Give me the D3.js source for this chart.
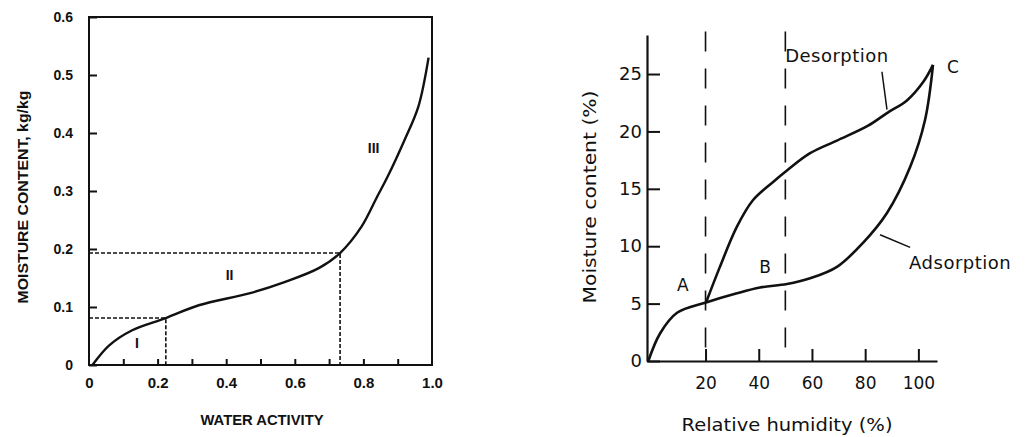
<!DOCTYPE html>
<html>
<head>
<meta charset="utf-8">
<script src="https://cdn.jsdelivr.net/npm/d3@7.9.0/dist/d3.min.js"></script>
<style>
  body { margin: 0; background: #fff; }
  svg { display: block; }
  .left text { font-family: "Liberation Sans", Arial, sans-serif; font-weight: bold; fill: #111; }
  .right text { font-family: "DejaVu Sans", sans-serif; fill: #111; }
</style>
</head>
<body>
<svg id="chart" width="1025" height="437"></svg>
<script>
// === Left chart: sorption isotherm ===
const awLabelTicks = [0, 0.2, 0.4, 0.6, 0.8, 1.0];
const awMinorTicks = [0.1, 0.2, 0.3, 0.4, 0.5, 0.6, 0.7, 0.8, 0.9];
const mcTicks = [0, 0.1, 0.2, 0.3, 0.4, 0.5, 0.6];
const isoAw = [0.01, 0.059, 0.126, 0.224, 0.32, 0.47, 0.57, 0.67, 0.732, 0.794, 0.84, 0.87, 0.92, 0.96, 0.99];
const isoMc = [0, 0.034, 0.060, 0.081, 0.103, 0.124, 0.143, 0.167, 0.193, 0.238, 0.29, 0.324, 0.388, 0.445, 0.53];
const regionAw = [0.224, 0.732];
const regionMc = [0.081, 0.193];
const regionNames = ['I', 'II', 'III'];

// === Right chart: hysteresis ===
const rhTicks = [20, 40, 60, 80, 100];
const pctTicks = [0, 5, 10, 15, 20, 25];
const adsRh = [-1.5, 2.9, 9.3, 20.2, 31.8, 40.5, 50.6, 59.3, 69.4, 79.2, 88.2, 96.9, 102.5, 105.5];
const adsMc = [0, 2.4, 4.2, 5.1, 5.9, 6.4, 6.7, 7.2, 8.2, 10.3, 12.9, 16.9, 21.0, 25.8];
const desRh = [20.2, 25.4, 31.8, 37.8, 45.4, 50.6, 59.3, 69.4, 81.1, 88.2, 95.7, 101.8, 105.5];
const desMc = [5.1, 8.2, 11.7, 14.0, 15.6, 16.6, 18.1, 19.2, 20.5, 21.6, 22.7, 24.3, 25.8];
const markerRh = [20, 50];

const svg = d3.select('#chart');

// ---------- left ----------
const L = svg.append('g').attr('class', 'left');
const x1 = d3.scaleLinear().domain([0, 1]).range([89, 432]);
const y1 = d3.scaleLinear().domain([0, 0.6]).range([365, 17]);

L.append('rect')
  .attr('x', x1(0)).attr('y', y1(0.6))
  .attr('width', x1(1) - x1(0)).attr('height', y1(0) - y1(0.6))
  .attr('fill', 'none').attr('stroke', '#111').attr('stroke-width', 2);

const fmt1 = (d) => (d === 0 ? '0' : d3.format('.1f')(d));

const yAx1 = L.append('g').attr('transform', `translate(${x1(0)},0)`)
  .call(d3.axisLeft(y1).tickValues(mcTicks).tickSizeInner(-8).tickSizeOuter(0).tickPadding(16).tickFormat(fmt1));
yAx1.select('.domain').remove();
yAx1.selectAll('line').attr('stroke', '#111').attr('stroke-width', 2);
yAx1.selectAll('text').attr('font-size', 14);

const xAx1 = L.append('g').attr('transform', `translate(0,${y1(0)})`)
  .call(d3.axisBottom(x1).tickValues(awMinorTicks).tickSizeInner(-6).tickSizeOuter(0).tickFormat(''));
xAx1.select('.domain').remove();
xAx1.selectAll('line').attr('stroke', '#111').attr('stroke-width', 2);

const xLab1 = L.append('g').attr('transform', `translate(0,${y1(0)})`)
  .call(d3.axisBottom(x1).tickValues(awLabelTicks).tickSize(0).tickPadding(12).tickFormat(fmt1));
xLab1.select('.domain').remove();
xLab1.selectAll('text').attr('font-size', 15);

// dashed region bounds
regionAw.forEach((aw, i) => {
  const mc = regionMc[i];
  L.append('path')
    .attr('d', `M${x1(0)},${y1(mc)}H${x1(aw)}V${y1(0)}`)
    .attr('fill', 'none').attr('stroke', '#111').attr('stroke-width', 1.6)
    .attr('stroke-dasharray', '4,2');
});

const line1 = d3.line().x((d) => x1(d[0])).y((d) => y1(d[1])).curve(d3.curveCatmullRom);
L.append('path')
  .attr('d', line1(d3.zip(isoAw, isoMc)))
  .attr('fill', 'none').attr('stroke', '#111').attr('stroke-width', 2.4);

const regionPos = [[0.14, 0.038], [0.41, 0.155], [0.83, 0.374]];
regionNames.forEach((name, i) => {
  L.append('text')
    .attr('x', x1(regionPos[i][0])).attr('y', y1(regionPos[i][1]))
    .attr('text-anchor', 'middle').attr('dy', '0.35em')
    .attr('font-size', 14).text(name);
});

L.append('text')
  .attr('transform', 'translate(28,197) rotate(-90)')
  .attr('text-anchor', 'middle')
  .attr('font-size', 15).attr('textLength', 213).attr('lengthAdjust', 'spacingAndGlyphs')
  .text('MOISTURE CONTENT, kg/kg');

L.append('text')
  .attr('x', 262).attr('y', 425)
  .attr('text-anchor', 'middle')
  .attr('font-size', 15).attr('textLength', 123).attr('lengthAdjust', 'spacingAndGlyphs')
  .text('WATER ACTIVITY');

// ---------- right ----------
const R = svg.append('g').attr('class', 'right');
const x2 = d3.scaleLinear().domain([-2, 107]).range([647, 937]);
const y2 = d3.scaleLinear().domain([0, 28.4]).range([361, 35]);

const yAx2 = R.append('g').attr('transform', `translate(${x2(-2)},0)`)
  .call(d3.axisLeft(y2).tickValues(pctTicks).tickSizeInner(-13).tickSizeOuter(0).tickPadding(5));
yAx2.select('.domain').attr('stroke', '#111').attr('stroke-width', 2.2);
yAx2.selectAll('line').attr('stroke', '#111').attr('stroke-width', 2);
yAx2.selectAll('text').attr('font-size', 18);

const xAx2 = R.append('g').attr('transform', `translate(0,${y2(0)})`)
  .call(d3.axisBottom(x2).tickValues(rhTicks).tickSizeInner(-12).tickSizeOuter(0).tickPadding(16));
xAx2.select('.domain').attr('stroke', '#111').attr('stroke-width', 2.2);
xAx2.selectAll('line').attr('stroke', '#111').attr('stroke-width', 2);
xAx2.selectAll('text').attr('font-size', 17);

markerRh.forEach((rh) => {
  R.append('line')
    .attr('x1', x2(rh)).attr('x2', x2(rh))
    .attr('y1', y2(28.7)).attr('y2', y2(0.6))
    .attr('stroke', '#111').attr('stroke-width', 1.6)
    .attr('stroke-dasharray', '20,17');
});

const line2 = d3.line().x((d) => x2(d[0])).y((d) => y2(d[1])).curve(d3.curveCatmullRom);
R.append('path').attr('d', line2(d3.zip(adsRh, adsMc)))
  .attr('fill', 'none').attr('stroke', '#111').attr('stroke-width', 2.6);
R.append('path').attr('d', line2(d3.zip(desRh, desMc)))
  .attr('fill', 'none').attr('stroke', '#111').attr('stroke-width', 2.6);

// leader lines
R.append('line').attr('x1', x2(86.3)).attr('y1', y2(25.2)).attr('x2', x2(88.2)).attr('y2', y2(21.9))
  .attr('stroke', '#111').attr('stroke-width', 1.5);
R.append('line').attr('x1', x2(85.6)).attr('y1', y2(11.0)).attr('x2', x2(96.9)).attr('y2', y2(9.9))
  .attr('stroke', '#111').attr('stroke-width', 1.5);

const txt2 = (x, y, s, size) => R.append('text')
  .attr('x', x2(x)).attr('y', y2(y)).attr('dy', '0.35em')
  .attr('text-anchor', 'middle').attr('font-size', size).text(s);
txt2(11.5, 6.6, 'A', 17);
txt2(42.4, 8.2, 'B', 17);
txt2(113, 25.6, 'C', 17);
txt2(69.4, 26.6, 'Desorption', 18).attr('letter-spacing', 0.5);
txt2(115.7, 8.6, 'Adsorption', 18).attr('letter-spacing', 0.5);

R.append('text')
  .attr('transform', 'translate(596,197) rotate(-90)')
  .attr('text-anchor', 'middle')
  .attr('font-size', 18).attr('textLength', 213).attr('lengthAdjust', 'spacingAndGlyphs')
  .text('Moisture content (%)');

R.append('text')
  .attr('x', 787).attr('y', 431)
  .attr('text-anchor', 'middle')
  .attr('font-size', 18).attr('textLength', 211).attr('lengthAdjust', 'spacingAndGlyphs')
  .text('Relative humidity (%)');
</script>
</body>
</html>
